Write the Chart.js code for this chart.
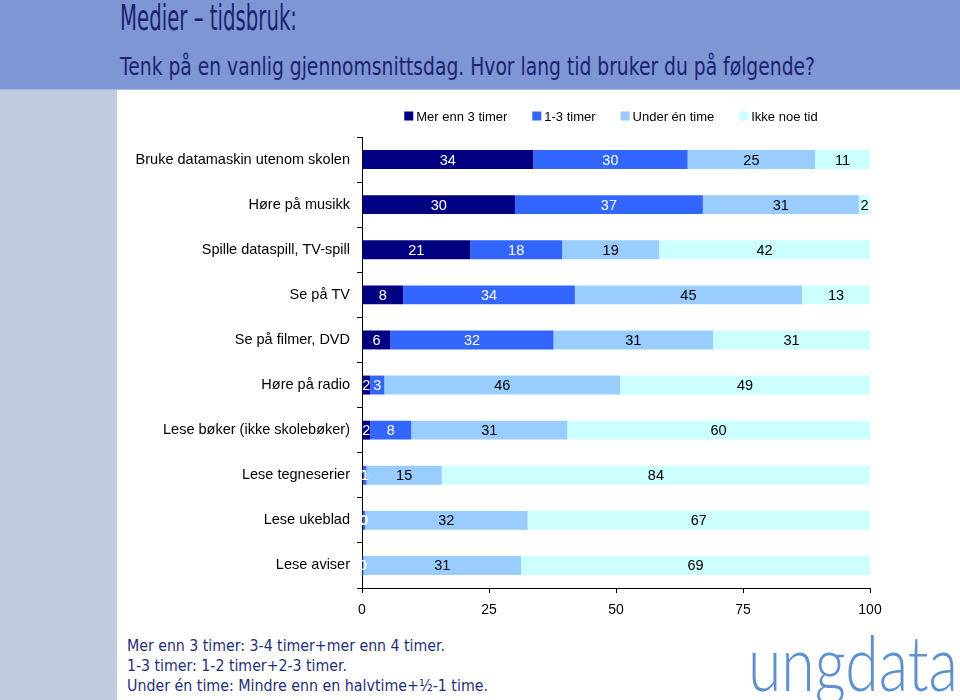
<!DOCTYPE html>
<html>
<head>
<meta charset="utf-8">
<script src="https://cdn.jsdelivr.net/npm/chart.js@4.4.1/dist/chart.umd.min.js"></script>
<style>
  html, body { margin:0; padding:0; width:960px; height:700px; overflow:hidden; background:#ffffff; }
  #header { position:absolute; left:0; top:0; width:960px; height:89px; background:#7f96d4; border-bottom:1px solid #a9b8e2; }
  #leftstrip { position:absolute; left:0; top:90px; width:117px; height:610px; background:#c0cbdd; }
  .fit { position:absolute; white-space:nowrap; transform-origin:0 0; display:inline-block; }
  #title { left:120px; top:0px; font-family:"DejaVu Sans", sans-serif; font-size:36px; line-height:36px; color:#1c2270; }
  #subtitle { left:120px; top:55px; font-family:"DejaVu Sans", sans-serif; font-size:24px; line-height:24px; color:#1c2270; }
  .note { left:127px; font-family:"DejaVu Sans", sans-serif; font-size:16px; line-height:16px; color:#1f2f78; }
  #logo { left:748px; top:624px; font-family:"Lato", "Open Sans", sans-serif; font-weight:300; font-size:76px; line-height:76px; color:#5d90cc; }
  #chart { position:absolute; left:117px; top:89px; }
</style>
</head>
<body>
<div id="header"></div>
<div id="leftstrip"></div>
<div id="title" class="fit" data-w="177">Medier – tidsbruk:</div>
<div id="subtitle" class="fit" data-w="695">Tenk på en vanlig gjennomsnittsdag. Hvor lang tid bruker du på følgende?</div>
<div class="fit note" style="top:638px" data-w="318">Mer enn 3 timer: 3-4 timer+mer enn 4 timer.</div>
<div class="fit note" style="top:658px" data-w="220">1-3 timer: 1-2 timer+2-3 timer.</div>
<div class="fit note" style="top:678px" data-w="361">Under én time: Mindre enn en halvtime+½-1 time.</div>
<div id="logo" class="fit" data-w="210">ungdata</div>
<canvas id="chart" width="843" height="541"></canvas>
<script>
// ---- data ----
const categories = [
  "Bruke datamaskin utenom skolen",
  "Høre på musikk",
  "Spille dataspill, TV-spill",
  "Se på TV",
  "Se på filmer, DVD",
  "Høre på radio",
  "Lese bøker (ikke skolebøker)",
  "Lese tegneserier",
  "Lese ukeblad",
  "Lese aviser"
];
const seriesNames = ["Mer enn 3 timer", "1-3 timer", "Under én time", "Ikke noe tid"];
const merEnn3 =     [33.7, 30.1, 21.3,  8.1,  5.6,  1.6,  1.6,  0.3,  0.3,  0.1];
const en3timer =    [30.4, 37.0, 18.1, 33.8, 32.1,  2.8,  8.1,  0.6,  0.3,  0.2];
const underEnTime = [25.1, 30.7, 19.1, 44.7, 31.4, 46.4, 30.7, 14.8, 32.0, 31.0];
const ikkeNoeTid =  [10.8,  2.2, 41.5, 13.4, 30.9, 49.2, 59.6, 84.3, 67.4, 68.7];
const xTicks = [0, 25, 50, 75, 100];

// ---- fit header/notes text widths ----
document.querySelectorAll('.fit').forEach(el => {
  const w = el.getBoundingClientRect().width;
  const target = parseFloat(el.dataset.w);
  el.style.transform = 'scaleX(' + (target / w) + ')';
});

const colors = ["#000080", "#3366ff", "#99ccff", "#ccffff"];
const labelColors = ["#ffffff", "#ffffff", "#000000", "#000000"];
const FONT = '"Liberation Sans", Arial, sans-serif';

const valueLabels = {
  id: 'valueLabels',
  afterDatasetsDraw(chart) {
    const ctx = chart.ctx;
    ctx.save();
    ctx.font = '14.5px ' + FONT;
    ctx.textAlign = 'center';
    ctx.textBaseline = 'middle';
    chart.data.datasets.forEach((ds, di) => {
      const meta = chart.getDatasetMeta(di);
      meta.data.forEach((bar, i) => {
        const v = ds.data[i];
        const cx = (bar.x + bar.base) / 2;
        ctx.fillStyle = labelColors[di];
        ctx.fillText(String(Math.round(v)), cx, bar.y + 1);
      });
    });
    ctx.restore();
  }
};

const customLegend = {
  id: 'customLegend',
  afterDraw(chart) {
    const ctx = chart.ctx;
    ctx.save();
    ctx.font = '13px ' + FONT;
    ctx.textBaseline = 'middle';
    const box = 9, gapText = 3, gapItem = 25;
    const widths = seriesNames.map(n => ctx.measureText(n).width);
    const total = widths.reduce((a, b) => a + b, 0) + seriesNames.length * (box + gapText) + (seriesNames.length - 1) * gapItem;
    let x = (chart.chartArea.left + chart.chartArea.right) / 2 - total / 2 - 5;
    const y = 27;
    seriesNames.forEach((n, i) => {
      ctx.fillStyle = colors[i];
      ctx.fillRect(x, y - box / 2, box, box);
      ctx.fillStyle = '#000000';
      ctx.fillText(n, x + box + gapText, y + 1);
      x += box + gapText + widths[i] + gapItem;
    });
    ctx.restore();
  }
};

new Chart(document.getElementById('chart'), {
  type: 'bar',
  data: {
    labels: categories,
    datasets: [
      { label: seriesNames[0], data: merEnn3, backgroundColor: colors[0] },
      { label: seriesNames[1], data: en3timer, backgroundColor: colors[1] },
      { label: seriesNames[2], data: underEnTime, backgroundColor: colors[2] },
      { label: seriesNames[3], data: ikkeNoeTid, backgroundColor: colors[3] }
    ]
  },
  options: {
    indexAxis: 'y',
    responsive: false,
    animation: false,
    devicePixelRatio: 1,
    datasets: { bar: { categoryPercentage: 0.42, barPercentage: 1, borderWidth: 0 } },
    layout: { padding: { top: 48, right: 90, left: 0, bottom: 0 } },
    plugins: { legend: { display: false }, tooltip: { enabled: false } },
    scales: {
      x: {
        stacked: true, min: 0, max: 100,
        afterBuildTicks(scale) { scale.ticks = xTicks.map(v => ({ value: v })); },
        afterFit(scale) { scale.height = 42; },
        grid: { drawOnChartArea: false, drawTicks: true, tickLength: 5, color: '#000000' },
        border: { display: true, color: '#000000', width: 1 },
        ticks: { color: '#000000', font: { family: FONT, size: 14 }, padding: 9, maxRotation: 0 }
      },
      y: {
        stacked: true,
        afterFit(scale) { scale.width = 245; },
        grid: { offset: true, drawOnChartArea: false, drawTicks: true, tickLength: 5, color: '#000000' },
        border: { display: true, color: '#000000', width: 1 },
        ticks: { color: '#000000', font: { family: FONT, size: 14.5 }, padding: 7 }
      }
    }
  },
  plugins: [valueLabels, customLegend]
});
</script>
</body>
</html>
